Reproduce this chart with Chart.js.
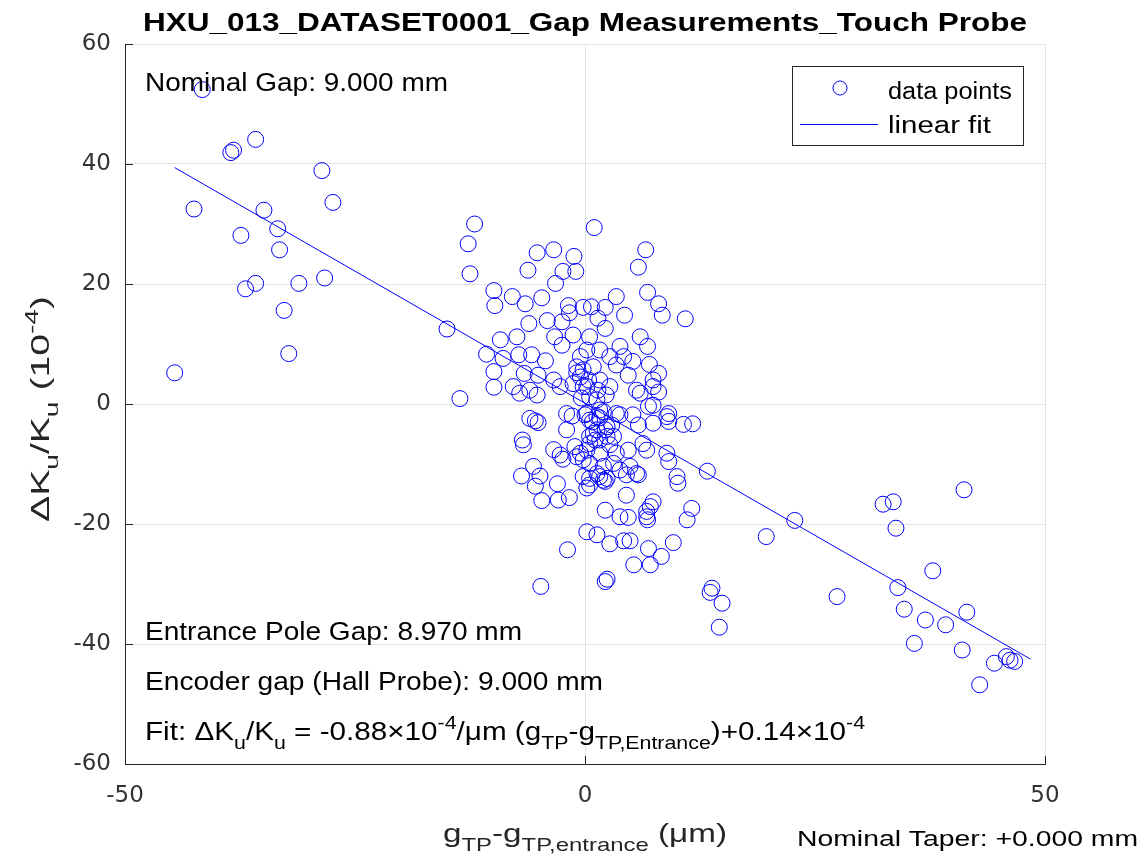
<!DOCTYPE html>
<html>
<head>
<meta charset="utf-8">
<script src="https://cdn.jsdelivr.net/npm/chart.js@4.4.0/dist/chart.umd.min.js"></script>
<style>
  html, body { margin: 0; padding: 0; background: #fff; }
  canvas { display: block; }
</style>
</head>
<body>
<canvas id="gapChart" width="1148" height="867"></canvas>
<script>
// gap deviation from entrance (um) and dK/K (1e-4)
const gapX = [
  -44.6,-42.5,-41.6,-38.5,-38.2,-37.4,-36.9,-35.8,-35.8,-34.9,-33.4,-33.2,-32.7,-32.2,-31.1,-28.6,-28.3,-27.4,-15.0,-13.6,-12.7,-12.5,-12.0,
  1.0,6.6,5.8,-5.2,-3.4,-1.2,-6.2,-2.4,-1.0,-3.2,
  -9.9,-9.8,-7.9,-6.5,-4.7,3.4,6.8,8.0,8.4,10.9,
  4.3,-1.8,-0.2,0.7,2.2,-1.7,-6.1,-4.1,-2.5,1.4,
  -1.3,-3.3,-2.5,-9.2,-7.4,2.2,6.0,6.8,-10.7,-8.9,
  -7.2,-5.8,-4.3,-9.9,-9.9,-6.6,-5.1,-7.8,-7.1,-5.2,
  -6.0,-3.4,-2.7,-0.5,-0.9,-0.5,-1.3,-0.2,7.0,8.0,
  5.2,3.8,7.4,6.0,0.5,0.2,1.6,2.7,4.2,3.4,
  4.7,0.9,-0.2,1.6,0.2,2.7,0.5,1.3,5.6,8.0,
  7.4,-0.9,0.4,1.4,2.3,-0.4,
  6.9,7.4,9.1,8.9,9.1,10.7,11.7,3.8,5.2,5.8,
  3.4,1.6,0.2,1.3,2.0,0.5,1.3,2.4,0.5,1.6,
  3.1,0.9,2.4,7.4,6.3,0.0,0.8,1.6,2.2,2.9,
  1.1,2.7,
  -6.0,-5.4,-5.1,-2.0,-1.4,-2.0,-6.8,-6.7,-3.4,-2.7,
  -2.4,-1.1,-0.2,0.5,-5.6,-6.9,-4.9,-5.4,-3.0,-4.7,
  -2.9,-1.7,0.5,0.5,1.6,2.4,4.5,2.2,3.8,4.7,
  6.7,7.4,7.1,6.7,11.6,11.1,0.2,1.3,2.7,4.2,
  4.9,-1.9,6.9,8.3,9.6,5.3,7.1,2.2,2.4,-4.8,
  13.8,13.6,14.9,14.6,13.3,8.9,9.1,10.0,10.1,6.7,
  4.7,4.9,5.8,4.5,3.4,3.1,-0.5,0.5,2.0,3.8,
  5.6,-0.9,-0.2,0.2,0.2,1.6,1.3,2.0,2.2,6.8,
  19.7,22.8,27.4,32.4,33.5,33.8,34.0,34.7,35.8,37.0,
  37.8,39.2,41.0,41.2,41.5,42.9,44.5,45.8,46.2,46.7
];
const dKu = [
  5.2,32.5,52.4,41.9,42.3,28.1,19.2,44.1,20.1,32.3,29.2,25.7,15.6,8.4,20.1,38.9,21.0,33.6,12.5,0.9,26.7,21.7,30.0,
  29.4,25.7,22.8,25.2,25.7,24.6,22.3,22.1,22.1,20.1,
  18.9,16.4,17.9,16.7,17.7,17.9,18.6,16.7,14.8,14.2,
  14.8,16.4,16.1,16.2,16.1,15.2,13.4,13.9,13.7,14.3,
  11.5,11.2,9.8,10.7,11.2,12.6,11.2,9.6,8.3,7.6,
  8.2,8.2,7.2,5.4,2.8,5.1,4.8,2.9,1.8,1.5,
  2.3,4.0,2.9,7.9,6.2,4.5,3.4,2.9,6.6,5.1,
  7.1,9.6,2.9,1.8,11.2,9.0,9.0,7.9,7.9,6.5,
  4.8,6.2,5.7,4.0,2.9,2.9,1.2,0.7,2.3,2.0,
  4.0,5.2,4.0,2.3,1.5,1.0,
  -0.4,-0.2,-1.6,-2.1,-2.9,-3.4,-3.3,-1.8,-1.8,-3.5,
  -1.6,-1.0,-1.6,-2.1,-1.3,-2.7,-4.3,-3.8,-5.4,-6.0,
  -5.4,-4.9,-5.4,-3.2,-6.6,-1.8,-3.0,-2.3,-4.3,-3.5,
  -6.0,-6.8,
  -2.4,-2.8,-3.1,-1.6,-2.0,-4.3,-6.0,-6.8,-7.6,-8.5,
  -9.2,-7.1,-9.3,-9.9,-10.4,-12.0,-12.0,-13.7,-13.3,-16.1,
  -16.0,-15.6,-12.4,-13.5,-12.1,-12.4,-15.2,-17.7,-18.8,-18.9,
  -17.9,-16.3,-17.1,-18.8,-17.4,-19.3,-21.3,-21.8,-23.3,-22.8,
  -22.8,-24.3,-24.1,-25.4,-23.1,-26.8,-26.8,-29.6,-29.2,-30.4,
  -30.7,-31.4,-33.2,-37.2,-11.2,-8.2,-9.6,-12.1,-13.2,-7.7,
  -7.7,-10.4,-11.8,-11.8,-8.2,-9.9,-8.2,-6.6,-12.7,-11.0,
  -11.6,-8.8,-12.1,-14.0,-7.7,-8.2,-11.6,-10.4,-12.9,-19.3,
  -22.1,-19.4,-32.1,-16.7,-16.3,-20.7,-30.6,-34.2,-39.9,-36.0,
  -27.8,-36.8,-41.0,-14.3,-34.7,-46.8,-43.2,-42.1,-42.7,-42.9
];
// linear fit end points
const fitX = [-44.6, 48.4];
const fitY = [39.4, -42.5];

const xTicks = [-50, 0, 50];
const yTicks = [-60, -40, -20, 0, 20, 40, 60];

const FONT = '"Liberation Sans", Arial, Helvetica, sans-serif';
const AXIS_COLOR = "#262626";

// text with sub/superscripts, squeezed or stretched to a target width
function partFont(p, size, weight) {
  const s = (p.sub || p.sup) ? size * 0.72 : size;
  return weight + " " + s + "px " + FONT;
}
function drawRich(ctx, parts, x, y, size, width, opts) {
  opts = opts || {};
  const weight = opts.weight || "normal";
  let natural = 0;
  for (const p of parts) {
    ctx.font = partFont(p, size, weight);
    natural += ctx.measureText(p.t).width;
  }
  const sx = width ? width / natural : 1;
  ctx.save();
  ctx.translate(x, y);
  if (opts.rotate) ctx.rotate(opts.rotate);
  ctx.scale(sx, 1);
  ctx.fillStyle = opts.color || "#000";
  ctx.textAlign = "left";
  ctx.textBaseline = "alphabetic";
  let cx = 0;
  for (const p of parts) {
    ctx.font = partFont(p, size, weight);
    const dy = p.sub ? size * 0.33 : (p.sup ? -size * 0.42 : 0);
    ctx.fillText(p.t, cx, dy);
    cx += ctx.measureText(p.t).width;
  }
  ctx.restore();
}

const decorations = {
  id: "decorations",
  afterDraw(chart) {
    const ctx = chart.ctx;
    const area = chart.chartArea;
    const xs = chart.scales.x, ys = chart.scales.y;

    // inward tick marks
    ctx.save();
    ctx.strokeStyle = AXIS_COLOR;
    ctx.lineWidth = 1;
    ctx.beginPath();
    yTicks.forEach(v => {
      const py = Math.round(ys.getPixelForValue(v)) + 0.5;
      ctx.moveTo(area.left, py); ctx.lineTo(area.left + 8, py);
    });
    xTicks.forEach(v => {
      const px = Math.round(xs.getPixelForValue(v)) + 0.5;
      ctx.moveTo(px, area.bottom); ctx.lineTo(px, area.bottom - 8);
    });
    ctx.stroke();
    ctx.restore();

    // title
    drawRich(ctx, [{ t: "HXU_013_DATASET0001_Gap Measurements_Touch Probe" }],
      143, 31, 26, 884, { weight: "bold" });

    // annotations inside the axes
    drawRich(ctx, [{ t: "Nominal Gap: 9.000 mm" }], 145, 91, 26, 303);
    drawRich(ctx, [{ t: "Entrance Pole Gap: 8.970 mm" }], 145, 640, 26, 377);
    drawRich(ctx, [{ t: "Encoder gap (Hall Probe): 9.000 mm" }], 145, 690, 26, 458);
    drawRich(ctx, [
      { t: "Fit: \u0394K" }, { t: "u", sub: true }, { t: "/K" }, { t: "u", sub: true },
      { t: " = -0.88\u00d710" }, { t: "-4", sup: true }, { t: "/\u03bcm (g" },
      { t: "TP", sub: true }, { t: "-g" }, { t: "TP,Entrance", sub: true },
      { t: ")+0.14\u00d710" }, { t: "-4", sup: true }
    ], 145, 740, 26, 720);

    // axis titles
    drawRich(ctx, [
      { t: "g" }, { t: "TP", sub: true }, { t: "-g" }, { t: "TP,entrance", sub: true }, { t: " (\u03bcm)" }
    ], 443, 842, 26, 284, { color: AXIS_COLOR });
    drawRich(ctx, [
      { t: "\u0394K" }, { t: "u", sub: true }, { t: "/K" }, { t: "u", sub: true },
      { t: " (10" }, { t: "-4", sup: true }, { t: ")" }
    ], 49, 522, 26, 226, { color: AXIS_COLOR, rotate: -Math.PI / 2 });
    drawRich(ctx, [{ t: "Nominal Taper: +0.000 mm" }], 797, 846, 22, 341);

    // legend box
    const ds = chart.data.datasets;
    ctx.save();
    ctx.fillStyle = "#fff";
    ctx.fillRect(792.5, 66.5, 231, 79);
    ctx.strokeStyle = AXIS_COLOR;
    ctx.lineWidth = 1;
    ctx.strokeRect(792.5, 66.5, 231, 79);
    ctx.strokeStyle = ds[0].borderColor;
    ctx.beginPath();
    ctx.arc(840, 88, 7, 0, Math.PI * 2);
    ctx.stroke();
    ctx.strokeStyle = ds[1].borderColor;
    ctx.beginPath();
    ctx.moveTo(800, 124.5); ctx.lineTo(878, 124.5);
    ctx.stroke();
    ctx.restore();
    drawRich(ctx, [{ t: ds[0].label }], 888, 99, 23, 124);
    drawRich(ctx, [{ t: ds[1].label }], 888, 133, 23, 103);
  }
};

new Chart(document.getElementById("gapChart"), {
  type: "scatter",
  data: {
    datasets: [{
      label: "data points",
      data: gapX.map((x, i) => ({ x: x, y: dKu[i] })),
      pointStyle: "circle",
      pointRadius: 8,
      pointHoverRadius: 8,
      pointBorderWidth: 1,
      borderColor: "#0000ff",
      backgroundColor: "rgba(0,0,0,0)"
    }, {
      label: "linear fit",
      type: "line",
      data: fitX.map((x, i) => ({ x: x, y: fitY[i] })),
      borderColor: "#0000ff",
      borderWidth: 1,
      pointRadius: 0,
      fill: false
    }]
  },
  options: {
    responsive: false,
    animation: false,
    layout: { padding: { left: 0, right: 103, top: 44, bottom: 0 } },
    plugins: {
      legend: { display: false },
      title: { display: false },
      tooltip: { enabled: false }
    },
    scales: {
      x: {
        type: "linear", min: -50, max: 50,
        afterBuildTicks: s => { s.ticks = xTicks.map(v => ({ value: v })); },
        afterFit: s => { s.height = 103; },
        grid: { color: "#e3e3e3", drawTicks: false },
        border: { color: AXIS_COLOR },
        ticks: { color: "#333", padding: 18, font: { family: "DejaVu Sans", size: 23 }, maxRotation: 0 }
      },
      y: {
        type: "linear", min: -60, max: 60,
        afterBuildTicks: s => { s.ticks = yTicks.map(v => ({ value: v })); },
        afterFit: s => { s.width = 125; },
        grid: { color: "#e3e3e3", drawTicks: false },
        border: { color: AXIS_COLOR },
        ticks: { color: "#333", padding: 14, font: { family: "DejaVu Sans", size: 23 } }
      }
    }
  },
  plugins: [decorations]
});
</script>
</body>
</html>
